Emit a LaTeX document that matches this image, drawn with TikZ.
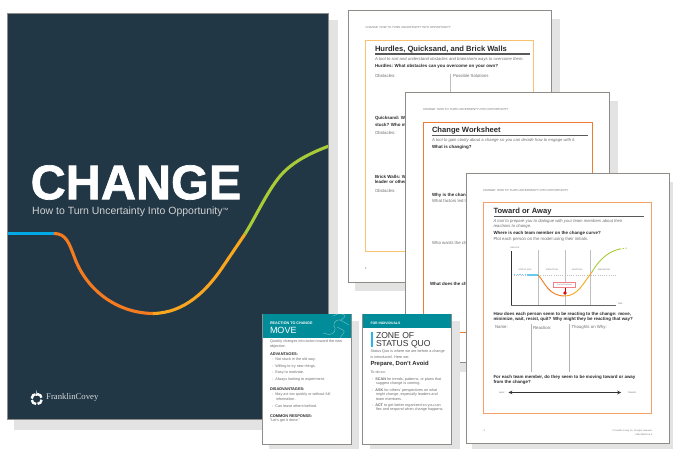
\documentclass[tikz,border=0pt]{standalone}
\usepackage{fontspec}
\setmainfont{Liberation Sans}
\newfontfamily\serifcov{Liberation Serif}
\newfontfamily\heavy[FakeBold=1.4]{Liberation Sans Bold}
\newcommand\fs[1]{\fontsize{#1}{#1}\selectfont}
\definecolor{navy}{HTML}{213746}
\definecolor{shade}{HTML}{E3E3E3}
\definecolor{frameg}{HTML}{8F8B86}
\definecolor{teal}{HTML}{008C99}
\definecolor{cblue}{HTML}{00A9E6}
\definecolor{corange}{HTML}{F47B20}
\definecolor{cyellow}{HTML}{FAA61F}
\definecolor{cgreen}{HTML}{A9CB37}
\definecolor{txtg}{HTML}{6E6E6E}
\definecolor{txtd}{HTML}{2A2A2A}
\tikzset{
 x=1pt,y=-1pt,
 lab/.style={anchor=west,inner sep=0pt,outer sep=0pt,text=txtg},
 hd/.style={lab,font=\fs{2.9}\itshape},
 ttl/.style={lab,text=txtd,font=\fs{7.6}\bfseries},
 bq/.style={lab,text=txtd,font=\fs{4.45}\bfseries},
 it/.style={lab,font=\fs{4.2}\itshape},
 gt/.style={lab,font=\fs{4.35}},
 ct/.style={lab,font=\fs{3.75}},
 cb/.style={lab,text=txtd,font=\fs{3.9}\bfseries},
 tiny/.style={anchor=center,inner sep=0pt,text=txtg,font=\fs{2}},
 sheet/.style={draw=frameg,line width=0.9pt,fill=white},
 shadowbox/.style={fill=shade,draw=none},
 curve/.style={line width=3.1pt},
 rule/.style={draw=black!65,line width=1.2pt},
 sep/.style={draw=black!25,line width=0.6pt},
}
\begin{document}
\begin{tikzpicture}
\useasboundingbox (0,0) rectangle (673,449);
\fill[white] (0,0) rectangle (673,449);
% --- page 1
\fill[shadowbox] (355,19) rectangle (560,291);
\draw[sheet] (348,10) rectangle (551.5,282);
\node[hd] (p1h) at (365.5,28) {CHANGE: HOW TO TURN UNCERTAINTY INTO OPPORTUNITY};
\draw[draw={rgb,255:red,249;green,194;blue,112},line width=0.9pt] (365.5,40) rectangle (533.5,251);
\node[ttl] (p1t) at (375,49.5) {Hurdles, Quicksand, and Brick Walls};
\draw[rule] (375,54) -- (530,54);
\node[it] (p1s) at (375,59.5) {A tool to sort and understand obstacles and brainstorm ways to overcome them.};
\node[bq] (p1q) at (375,66.5) {Hurdles: What obstacles can you overcome on your own?};
\node[gt] (p1a) at (375,75.5) {Obstacles:};
\node[gt] (p1b) at (453,75.5) {Possible Solutions};
\draw[sep] (450.5,74) -- (450.5,92);
\node[bq] (p1c) at (375,118.5) {Quicksand: What keeps you};
\node[bq] (p1d) at (375,125) {stuck? Who might help?};
\node[gt] (p1e) at (375,132.5) {Obstacles:};
\node[bq] (p1f) at (375,176.5) {Brick Walls: What needs a};
\node[bq] (p1g) at (375,182.5) {leader or other to help?};
\node[gt] (p1i) at (375,190.5) {Obstacles:};
\node[lab,font=\fs{3}] (p1n) at (365,268.5) {1};
% --- page 2
\fill[shadowbox] (412,101) rectangle (617.5,372);
\draw[sheet] (405.5,92) rectangle (609,362);
\node[hd] (p2h) at (423,109.5) {CHANGE: HOW TO TURN UNCERTAINTY INTO OPPORTUNITY};
\draw[draw={rgb,255:red,238;green,125;blue,50},line width=0.9pt] (423,122) rectangle (592,332);
\node[ttl] (p2t) at (432,130.5) {Change Worksheet};
\draw[rule] (432,135.5) -- (588,135.5);
\node[it] (p2s) at (432,140.5) {A tool to gain clarity about a change so you can decide how to engage with it.};
\node[bq] (p2q) at (432,147.5) {What is changing?};
\node[bq] (p2w) at (432,195.5) {Why is the change happening?};
\node[gt] (p2f) at (432,201.5) {What factors led to the change?};
\node[gt] (p2o) at (432,243.5) {Who wants the change?};
\node[bq] (p2d) at (430,284.5) {What does the change mean for you?};
\node[lab,font=\fs{3}] (p2n) at (423,349) {1};
% --- page 3
\fill[shadowbox] (472,182) rectangle (673,449);
\draw[sheet] (466,173.3) rectangle (669.5,443.7);
\node[hd] (p3h) at (483,190.5) {CHANGE: HOW TO TURN UNCERTAINTY INTO OPPORTUNITY};
\draw[draw={rgb,255:red,246;green,160;blue,106},line width=1pt] (483.5,203) rectangle (651.5,414);
\node[ttl] (p3t) at (493.5,211.5) {Toward or Away};
\draw[rule] (493.5,216.5) -- (644,216.5);
\node[it] (p3s1) at (493.5,221.5) {A tool to prepare you to dialogue with your team members about their};
\node[it] (p3s2) at (493.5,226.5) {reactions to change.};
\node[bq] (p3q) at (493.5,233.5) {Where is each team member on the change curve?};
\node[gt] (p3p) at (493.5,239.5) {Plot each person on the model using their initials.};
% chart
\draw[black!25,line width=0.7pt] (538,250)--(538,305) (565,250)--(565,305) (590.7,250)--(590.7,305);
\draw[black!25,line width=0.8pt,dash pattern=on 1pt off 1.2pt] (514,275) -- (617,275);
\draw[cblue!60,line width=1pt,dash pattern=on 1.2pt off 1.5pt] (514,275) -- (527,275);
\draw[cblue!60,line width=1.2pt] (527,275) -- (538,275);
\draw[corange,line width=0.9pt] (538,275) .. controls (545,282) and (548,296) .. (565,296);
\draw[cyellow,line width=0.9pt] (565,296) .. controls (578,296) and (584,282) .. (592,272);
\draw[cgreen,line width=0.9pt] (592,272) .. controls (600,258) and (610,251) .. (620,249);
\draw[cgreen,line width=0.9pt,dash pattern=on 1.2pt off 1.5pt] (620,249) -- (627,248);
\draw[black!80,line width=0.7pt] (511.7,251) -- (511.7,305);
\draw[black!60,line width=0.9pt] (511.2,305) -- (616,305);
\node[tiny] (c1) at (525,270) {STATUS QUO};
\node[tiny] (c2) at (552,270) {DISRUPTION};
\node[tiny] (c3) at (577,270) {ADOPTION};
\node[tiny] (c4) at (604,270) {INNOVATION};
\node[tiny] (c5) at (515,248) {RESULTS};
\node[tiny] (c6) at (620,304) {TIME};
\node[tiny,draw={rgb,255:red,240;green,130;blue,135},line width=0.6pt,fill=white,minimum width=22.5pt,minimum height=5.2pt] (c7) at (564.5,285) {Point of Decision};
\draw[red!80!black,line width=0.9pt] (c7.south -| 565,0) -- (565,293);
\draw[red!80!black,fill=white,line width=0.8pt] (565,293) circle (1.3);
\node[bq] (p3r1) at (493.5,314.5) {How does each person seem to be reacting to the change: move,};
\node[bq] (p3r2) at (493.5,319.5) {minimize, wait, resist, quit? Why might they be reacting that way?};
\node[gt] (p3c1) at (495,327.5) {Name:};
\node[gt] (p3c2) at (533,327.5) {Reaction:};
\node[gt] (p3c3) at (571.5,327.5) {Thoughts on Why:};
\draw[sep,black!30] (531.5,324.5) -- (531.5,372.5) (569.5,324.5) -- (569.5,372.5);
\node[bq] (p3f1) at (493.5,377.5) {For each team member, do they seem to be moving toward or away};
\node[bq] (p3f2) at (493.5,382.5) {from the change?};
\node[tiny] (aw) at (502,392.5) {AWAY};
\node[tiny] (to) at (632,392.5) {TOWARD};
\draw[black!80,line width=0.7pt,<->,>=stealth] (aw.east)++(3.5,0) -- (621,392.5);
\node[lab,font=\fs{2.6}] (p3n) at (483.5,431) {1};
\node[anchor=east,inner sep=0,text=txtg,font=\fs{2.2}] (cr1) at (652.5,430.5) {© Franklin Covey Co. All rights reserved.};
\node[anchor=east,inner sep=0,text=txtg,font=\fs{2.2}] (cr2) at (652.5,434.5) {LIS6744949 0.4.0};
% --- cover
\fill[shadowbox] (14,20) rectangle (338,430);
\draw[draw=frameg,fill=navy,line width=0.8pt] (7.5,13) rectangle (328.5,419.5);
\begin{scope}
\clip (8,13) rectangle (328,419);
\draw[cblue,curve] (8,233.5) -- (54,233.5);
\draw[corange,curve] (54,233.5) .. controls (66,233.5) and (69,243) .. (74,256)
  .. controls (85,288) and (115,313) .. (153,313.5);
\draw[cyellow,curve] (153,313.5) .. controls (185,313) and (207,290) .. (222,268)
  -- (245,234);
\draw[cgreen,curve] (245,234) .. controls (255,218) and (265,196) .. (277,180)
  .. controls (288,165) and (305,155) .. (329,146);
\end{scope}
\node[anchor=west,inner sep=0,text=white,font=\fs{48.6}\heavy] (ctitle) at (30.5,182.5) {CHANGE};
\node[anchor=west,inner sep=0,text=black!18,font=\fs{10.5}] (csub) at (32,211.3) {How to Turn Uncertainty Into Opportunity\raisebox{0.3ex}{\fs{6}™}};
% logo
\draw[white,line width=2.4pt,dash pattern=on 6.2pt off 1.6pt,dash phase=7pt] (36.7,399) circle (5.2);
\fill[white] (36.7,390) -- (37.4,396) -- (36,396) -- cycle;
\node[anchor=west,inner sep=0,text=black!15,font=\fs{8.7}\serifcov] (clogo) at (46,397.5) {FranklinCovey};
% --- card 1
\fill[shadowbox] (269,321) rectangle (359,449);
\draw[sheet] (262.5,314) rectangle (351.5,444.3);
\fill[teal] (263,314.5) rectangle (351,338);
\begin{scope}
\clip (263,314.5) rectangle (351,338);
\draw[white!40!teal,line width=0.5pt,fill=none,rounded corners=2pt]
 (323,333) -- (331,335) -- (336,330) -- (333,324) -- (338,319) -- (344,322) -- (349,325)
 (337,327) -- (345,331) -- (340,338)
 (333,316) -- (340,313) -- (346,316) -- (341,320);
\end{scope}
\node[lab,text=white,font=\fs{3.7}\bfseries] (k1a) at (270,323.5) {REACTION TO CHANGE};
\node[lab,text=white,font=\fs{9}] (k1b) at (270,330) {MOVE};
\node[ct] (k1c) at (270,342) {Quickly changes into action toward the new};
\node[ct] (k1d) at (270,346.5) {objective.};
\node[cb] (k1e) at (270,354.5) {ADVANTAGES:};
\node[ct] (k1f) at (272,359.5) {-\ \ Not stuck in the old way.};
\node[ct] (k1g) at (272,366.5) {-\ \ Willing to try new things.};
\node[ct] (k1h) at (272,372.5) {-\ \ Easy to motivate.};
\node[ct] (k1i) at (272,379.5) {-\ \ Always looking to experiment.};
\node[cb] (k1j) at (270,389.5) {DISADVANTAGES:};
\node[ct] (k1k) at (272,394.5) {-\ \ May act too quickly or without full};
\node[ct] (k1l) at (276,399.5) {information.};
\node[ct] (k1m) at (272,406.5) {-\ \ Can leave others behind.};
\node[cb] (k1n) at (270,416.5) {COMMON RESPONSE:};
\node[ct] (k1o) at (270,421) {``Let's get it done.''};
% --- card 2
\fill[shadowbox] (370,321) rectangle (460,449);
\draw[sheet] (362.8,314) rectangle (451.7,444.3);
\fill[teal] (363.3,314.5) rectangle (451.2,328.5);
\node[lab,text=white,font=\fs{3.4}\bfseries] (k2a) at (370.5,323.5) {FOR INDIVIDUALS};
\fill[cblue!85] (371,332) rectangle (373,347);
\node[lab,text=black!80,font=\fs{8.6}] (k2b) at (376,335.7) {ZONE OF};
\node[lab,text=black!80,font=\fs{8.6}] (k2c) at (376,344) {STATUS QUO};
\node[ct] (k2d) at (370.5,352) {Status Quo is where we are before a change};
\node[ct] (k2e) at (370.5,357) {is introduced. Here we:};
\node[lab,text=txtd,font=\fs{5.9}\bfseries] (k2f) at (370.5,364) {Prepare, Don't Avoid};
\node[ct] (k2g) at (370.5,372.5) {To do so:};
\node[ct] (k2h) at (372,379.5) {-\ \ \textbf{SCAN} for trends, patterns, or plans that};
\node[ct] (k2i) at (376,384) {suggest change is coming.};
\node[ct] (k2j) at (372,390.5) {-\ \ \textbf{ASK} for others' perspectives on what};
\node[ct] (k2k) at (376,395) {might change, especially leaders and};
\node[ct] (k2l) at (376,399.5) {team members.};
\node[ct] (k2m) at (372,405.5) {-\ \ \textbf{ACT} to get better organized so you can};
\node[ct] (k2n) at (376,410) {flex and respond when change happens.};
\end{tikzpicture}
\end{document}
